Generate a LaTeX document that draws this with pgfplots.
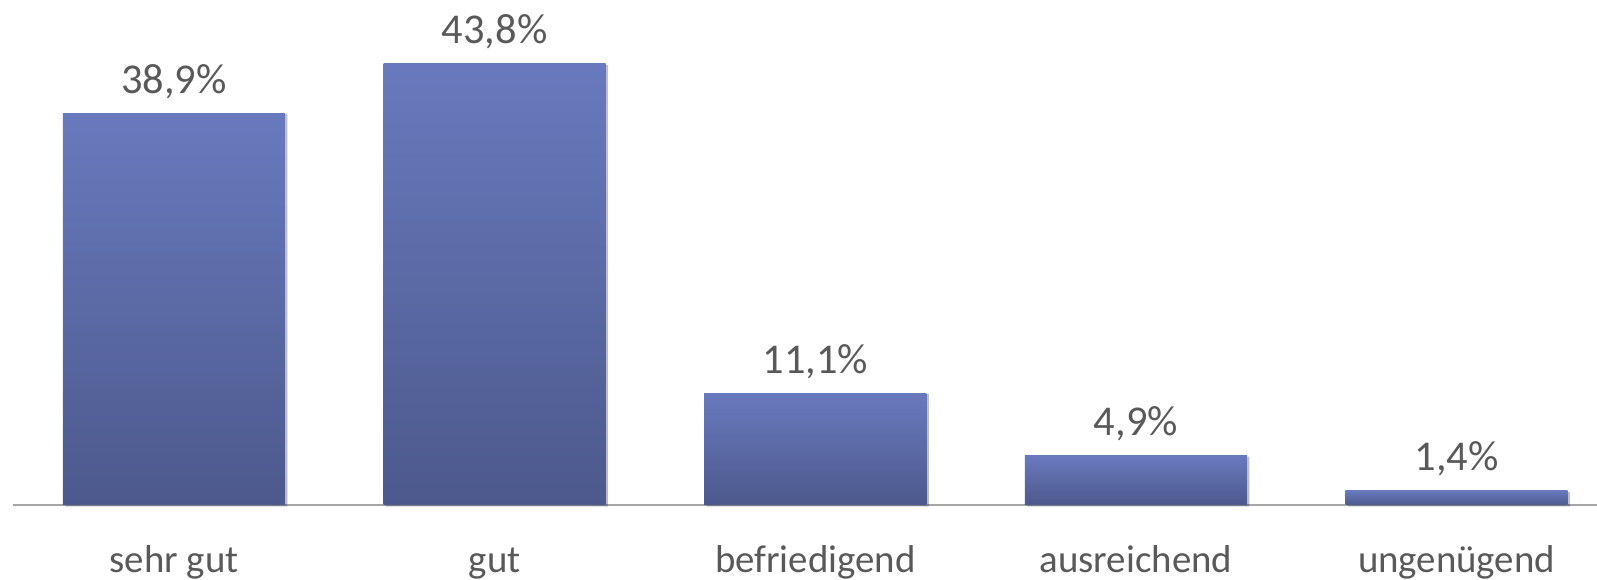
\documentclass[border=0pt]{standalone}
\usepackage{fontspec}
\setmainfont{Carlito}
\usepackage{pgfplots}
\pgfplotsset{compat=1.18}
\usetikzlibrary{shadows}
\definecolor{barTop}{RGB}{105,121,189}
\definecolor{barBot}{RGB}{77,89,140}
\definecolor{txtGray}{RGB}{89,89,89}
\definecolor{lineGray}{RGB}{166,166,166}
\pgfplotsset{barstyle/.style={draw=none, top color=barTop, bottom color=barBot, bar shift=0pt,
  drop shadow={shadow xshift=1.2bp, shadow yshift=-0.6bp, opacity=0.18, fill=black}}}
\begin{document}
\begin{tikzpicture}
\begin{axis}[
  at={(0,0)}, anchor=south west,
  scale only axis,
  width=792bp, height=252.5bp,
  xmin=-0.502, xmax=4.438,
  ymin=0, ymax=50.15,
  hide y axis,
  axis x line*=bottom,
  x axis line style={draw=lineGray, line width=1bp, -},
  xtick={0,1,2,3,4},
  xticklabels={sehr gut, gut, befriedigend, ausreichend, ungenügend},
  xtick style={draw=none},
  xticklabel style={font=\fontsize{19.5}{23}\selectfont, text=txtGray, anchor=base, yshift=-29.3bp},
  ybar, bar width=0.6925,
  nodes near coords={\pgfmathprintnumber[fixed, fixed zerofill, precision=1, use comma, assume math mode=true]{\pgfplotspointmeta}\%},
  every node near coord/.append style={font=\fontsize{21.3}{25}\selectfont, text=txtGray, anchor=base, yshift=10bp},
  clip=false,
]
\addplot[barstyle] coordinates {(0,38.9)};
\addplot[barstyle] coordinates {(1,43.8)};
\addplot[barstyle] coordinates {(2,11.1)};
\addplot[barstyle] coordinates {(3,4.9)};
\addplot[barstyle] coordinates {(4,1.4)};
\end{axis}
\pgfresetboundingbox
\path[use as bounding box] (-6.5bp,-37.5bp) rectangle (792bp,252.5bp);
\end{tikzpicture}
\end{document}
